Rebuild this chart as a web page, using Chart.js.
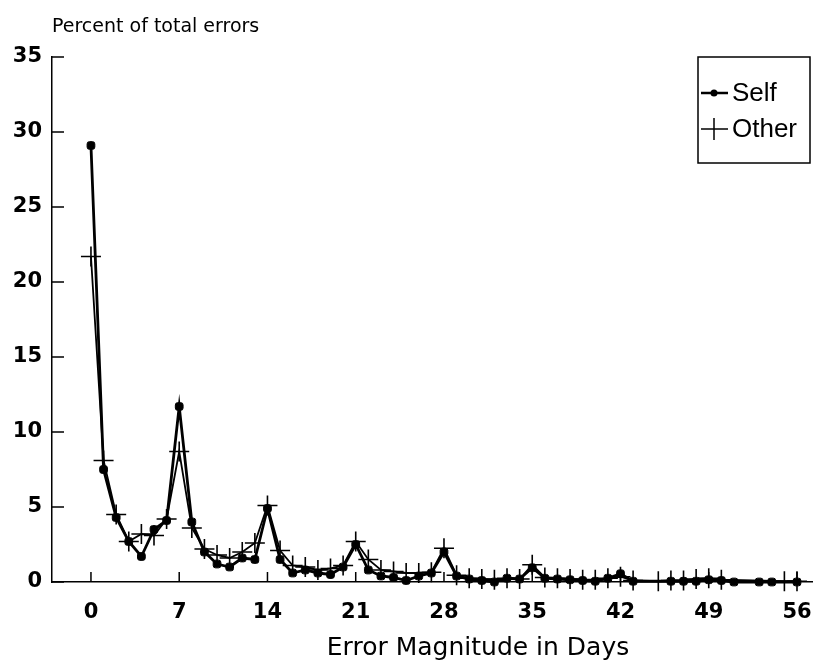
<!DOCTYPE html>
<html>
<head>
<meta charset="utf-8">
<script src="https://cdn.jsdelivr.net/npm/chart.js@4"></script>
<style>
  body { margin: 0; background: #fff; }
  #wrap { width: 817px; height: 665px; position: relative; }
</style>
</head>
<body>
<div id="wrap"><canvas id="errors-chart"></canvas></div>
<script>
// days and percent of total errors
const selfDays = [0, 1, 2, 3, 4, 5, 6, 7, 8, 9, 10, 11, 12, 13, 14, 15, 16, 17, 18, 19, 20,
  21, 22, 23, 24, 25, 26, 27, 28, 29, 30, 31, 32, 33, 34, 35, 36, 37, 38, 39, 40, 41, 42, 43,
  46, 47, 48, 49, 50, 51, 53, 54, 56]
const selfValues = [29.1, 7.5, 4.3, 2.7, 1.7, 3.5, 4.1, 11.7, 4.0, 2.0, 1.2, 1.0, 1.6, 1.5, 4.9,
  1.5, 0.6, 0.8, 0.6, 0.5, 1.0, 2.5, 0.8, 0.4, 0.3, 0.1, 0.4, 0.6, 2.0, 0.4, 0.2, 0.1, 0.0,
  0.25, 0.2, 0.95, 0.25, 0.2, 0.15, 0.1, 0.05, 0.25, 0.55, 0.05, 0.05, 0.05, 0.05, 0.15, 0.1,
  0, 0, 0, 0]
const otherDays = [0, 1, 2, 3, 4, 5, 6, 7, 8, 9, 10, 11, 12, 13, 14, 15, 16, 17, 18, 19, 20,
  21, 22, 23, 24, 25, 26, 27, 28, 29, 30, 31, 32, 33, 34, 35, 36, 37, 38, 39, 40, 41, 42, 43,
  45, 46, 47, 48, 49, 50, 55, 56]
const otherValues = [21.7, 8.1, 4.5, 2.7, 3.2, 3.1, 4.2, 8.7, 3.6, 2.2, 1.8, 1.6, 2.0, 2.6, 5.1,
  2.1, 1.1, 1.0, 0.8, 0.9, 1.1, 2.7, 1.5, 0.8, 0.7, 0.6, 0.6, 0.65, 2.25, 0.45, 0.25, 0.2, 0.15,
  0.25, 0.2, 1.15, 0.3, 0.25, 0.2, 0.15, 0.15, 0.25, 0.35, 0.1, 0.05, 0.1, 0.1, 0.2, 0.25, 0.15,
  0.05, 0.05]
const xTickValues = [0, 7, 14, 21, 28, 35, 42, 49, 56]
const yTickValues = [0, 5, 10, 15, 20, 25, 30, 35]

const seriesLabels = ['Self', 'Other']
const yTitle = 'Percent of total errors'
const xTitle = 'Error Magnitude in Days'

function toPoints(xs, ys) {
  return xs.map((x, i) => ({ x: x, y: ys[i] }))
}

// inward tick marks, axis titles and the boxed legend
const figureExtras = {
  id: 'figureExtras',
  afterDraw(chart) {
    const ctx = chart.ctx
    const area = chart.chartArea
    const xs = chart.scales.x
    const ys = chart.scales.y
    ctx.save()
    ctx.strokeStyle = '#000'
    ctx.lineWidth = 1.5
    ctx.beginPath()
    ys.ticks.forEach(t => {
      const py = ys.getPixelForValue(t.value)
      ctx.moveTo(area.left, py)
      ctx.lineTo(area.left + 12, py)
    })
    xs.ticks.forEach(t => {
      const px = xs.getPixelForValue(t.value)
      ctx.moveTo(px, area.bottom)
      ctx.lineTo(px, area.bottom - 10)
    })
    ctx.stroke()

    ctx.fillStyle = '#000'
    ctx.font = '19px "DejaVu Sans", sans-serif'
    ctx.textBaseline = 'alphabetic'
    ctx.textAlign = 'left'
    ctx.fillText(yTitle, area.left, 32)

    ctx.font = '25px "DejaVu Sans", sans-serif'
    ctx.textAlign = 'center'
    ctx.fillText(xTitle, 478, 655)

    // legend box
    const bx = area.right - 114
    const by = area.top
    const bw = 112
    const bh = 106
    ctx.textAlign = 'left'
    ctx.lineWidth = 1.5
    ctx.strokeRect(bx, by, bw, bh)
    const rowSelf = by + 36
    const rowOther = by + 72
    ctx.beginPath()
    ctx.lineWidth = 2.5
    ctx.moveTo(bx + 3, rowSelf)
    ctx.lineTo(bx + 30, rowSelf)
    ctx.stroke()
    ctx.beginPath()
    ctx.arc(bx + 16, rowSelf, 3.5, 0, Math.PI * 2)
    ctx.fill()
    ctx.beginPath()
    ctx.lineWidth = 1.5
    ctx.moveTo(bx + 3, rowOther)
    ctx.lineTo(bx + 30, rowOther)
    ctx.moveTo(bx + 16, rowOther - 11)
    ctx.lineTo(bx + 16, rowOther + 11)
    ctx.stroke()
    ctx.font = '26px "Liberation Sans", Arial, sans-serif'
    ctx.textBaseline = 'middle'
    ctx.fillText(chart.data.datasets[0].label, bx + 34, rowSelf + 1)
    ctx.fillText(chart.data.datasets[1].label, bx + 34, rowOther + 1)
    ctx.restore()
  }
}

const errorsChart = document.getElementById('errors-chart')
new Chart(errorsChart, {
  type: 'line',
  data: {
    datasets: [
      {
        label: seriesLabels[0],
        data: toPoints(selfDays, selfValues),
        borderColor: '#000',
        backgroundColor: '#000',
        borderWidth: 2.8,
        pointStyle: 'rectRounded',
        pointRadius: 4.5,
        pointBorderWidth: 1,
        tension: 0,
        clip: false
      },
      {
        label: seriesLabels[1],
        data: toPoints(otherDays, otherValues),
        borderColor: '#000',
        backgroundColor: '#000',
        borderWidth: 1.8,
        pointStyle: 'cross',
        pointRadius: 10,
        pointBorderWidth: 1.6,
        tension: 0,
        clip: false
      }
    ]
  },
  options: {
    responsive: true,
    maintainAspectRatio: false,
    animation: false,
    layout: {
      autoPadding: false,
      padding: { top: 57, right: 5, left: 0, bottom: 0 }
    },
    scales: {
      x: {
        type: 'linear',
        min: -3.09,
        max: 57.19,
        afterFit(scale) {
          scale.height = 83
          scale.paddingLeft = 0
          scale.paddingRight = 0
        },
        afterBuildTicks(scale) { scale.ticks = xTickValues.map(v => ({ value: v })) },
        border: { display: true, color: '#000', width: 1.5 },
        grid: { display: false, drawTicks: false },
        ticks: {
          padding: 18,
          color: '#000',
          font: { family: '"DejaVu Sans", sans-serif', size: 21, weight: 'bold' }
        }
      },
      y: {
        min: 0,
        max: 35,
        afterFit(scale) {
          scale.width = 52
          scale.paddingTop = 0
          scale.paddingBottom = 0
        },
        afterBuildTicks(scale) { scale.ticks = yTickValues.map(v => ({ value: v })) },
        border: { display: true, color: '#000', width: 1.5 },
        grid: { display: false, drawTicks: false },
        ticks: {
          padding: 10,
          color: '#000',
          font: { family: '"DejaVu Sans", sans-serif', size: 21, weight: 'bold' }
        }
      }
    },
    plugins: {
      legend: { display: false },
      tooltip: { enabled: false }
    }
  },
  plugins: [figureExtras]
})
</script>
</body>
</html>
